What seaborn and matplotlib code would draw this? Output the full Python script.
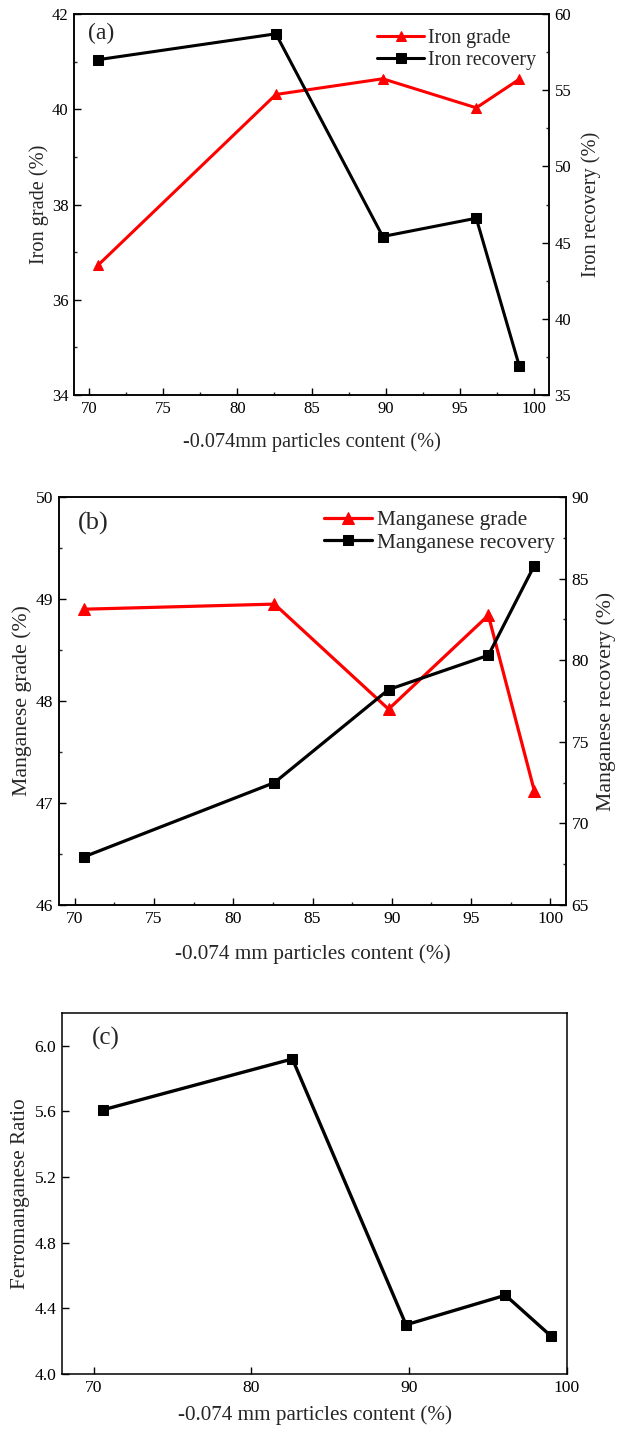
import matplotlib
matplotlib.use("Agg")
import matplotlib.pyplot as plt
from matplotlib.ticker import MultipleLocator, FormatStrFormatter
import seaborn as sns
import pandas as pd

sns.set_style("ticks")
plt.rcParams["font.family"] = ["Liberation Serif", "DejaVu Serif"]
plt.rcParams["mathtext.fontset"] = "stix"

# -0.074 mm particle content (%)
fineness = [70.6, 82.6, 89.8, 96.1, 99.0]

# (a) iron
iron_grade = [36.72, 40.31, 40.64, 40.03, 40.63]
iron_recovery = [57.0, 58.7, 45.4, 46.6, 36.9]

# (b) manganese
mn_grade = [48.90, 48.95, 47.92, 48.84, 47.12]
mn_recovery = [67.96, 72.5, 78.2, 80.3, 85.8]

# (c) Fe/Mn ratio
fe_mn_ratio = [5.61, 5.92, 4.30, 4.48, 4.23]

W, H = 618, 1432
fig = plt.figure(figsize=(W / 100, H / 100), dpi=100)


def px_axes(left, right, top, bottom):
    return fig.add_axes([left / W, 1 - bottom / H, (right - left) / W, (bottom - top) / H])


def style_axis(ax, fs, right=False):
    for s in ax.spines.values():
        s.set_linewidth(1.1)
        s.set_color("black")
    ax.tick_params(axis="both", which="major", direction="in", length=5, width=1.0,
                   labelsize=fs, colors="black", pad=4)
    ax.tick_params(axis="both", which="minor", direction="in", length=2.5, width=1.0)
    ax.tick_params(top=False, which="both")
    if not right:
        ax.tick_params(axis="y", right=False, which="both")


def draw(ax, x, y, color, marker, ms, lw, label):
    df = pd.DataFrame({"x": x, "y": y})
    sns.lineplot(data=df, x="x", y="y", ax=ax, color=color, marker=marker,
                 markersize=ms, linewidth=lw, markeredgecolor=color,
                 markerfacecolor=color, label=label, legend=False, sort=False)


# ---------- (a) ----------
axa = px_axes(74, 549, 14, 395)
axa2 = axa.twinx()
draw(axa, fineness, iron_grade, "#ff0000", "^", 7.5, 2.2, "Iron grade")
draw(axa2, fineness, iron_recovery, "black", "s", 6.5, 2.2, "Iron recovery")
axa.set_xlim(69, 101)
axa.set_ylim(34, 42)
axa2.set_ylim(35, 60)
axa.xaxis.set_major_locator(MultipleLocator(5))
axa.xaxis.set_minor_locator(MultipleLocator(2.5))
axa.yaxis.set_major_locator(MultipleLocator(2))
axa.yaxis.set_minor_locator(MultipleLocator(1))
axa2.yaxis.set_major_locator(MultipleLocator(5))
axa2.yaxis.set_minor_locator(MultipleLocator(2.5))
style_axis(axa, 12)
style_axis(axa2, 12, right=True)
axa.set_xlabel("-0.074mm particles content (%)", fontsize=14.6, labelpad=11)
axa.set_ylabel("Iron grade (%)", fontsize=14.6, labelpad=2)
axa2.set_ylabel("Iron recovery (%)", fontsize=14.6, labelpad=7)
axa.text(0.029, 0.95, "(a)", transform=axa.transAxes, fontsize=17, va="center", ha="left")
handles = axa.get_lines() + axa2.get_lines()
axa.legend(handles=handles, labels=[h.get_label() for h in handles], loc="upper left",
           bbox_to_anchor=(0.638, 0.96), frameon=False, fontsize=14.4, borderpad=0,
           handlelength=2.35, handletextpad=0.2, labelspacing=0.14, borderaxespad=0)

# ---------- (b) ----------
axb = px_axes(59, 566, 497, 905)
axb2 = axb.twinx()
draw(axb, fineness, mn_grade, "#ff0000", "^", 8, 2.3, "Manganese grade")
draw(axb2, fineness, mn_recovery, "black", "s", 7, 2.3, "Manganese recovery")
axb.set_xlim(69, 101)
axb.set_ylim(46, 50)
axb2.set_ylim(65, 90)
axb.xaxis.set_major_locator(MultipleLocator(5))
axb.xaxis.set_minor_locator(MultipleLocator(2.5))
axb.yaxis.set_major_locator(MultipleLocator(1))
axb.yaxis.set_minor_locator(MultipleLocator(0.5))
axb2.yaxis.set_major_locator(MultipleLocator(5))
axb2.yaxis.set_minor_locator(MultipleLocator(2.5))
style_axis(axb, 12.6)
style_axis(axb2, 12.6, right=True)
axb.set_xlabel("-0.074 mm particles content (%)", fontsize=15.3, labelpad=13)
axb.set_ylabel("Manganese grade (%)", fontsize=15.7, labelpad=3)
axb2.set_ylabel("Manganese recovery (%)", fontsize=15.7, labelpad=5)
axb.text(0.037, 0.936, "(b)", transform=axb.transAxes, fontsize=19, va="center", ha="left")
handles = axb.get_lines() + axb2.get_lines()
axb.legend(handles=handles, labels=[h.get_label() for h in handles], loc="upper left",
           bbox_to_anchor=(0.523, 0.968), frameon=False, fontsize=15.4, borderpad=0,
           handlelength=2.25, handletextpad=0.23, labelspacing=0.12, borderaxespad=0)

# ---------- (c) ----------
axc = px_axes(62, 567, 1013, 1374)
draw(axc, fineness, fe_mn_ratio, "black", "s", 7, 2.4, "Ferromanganese Ratio")
axc.set_xlim(68, 100)
axc.set_ylim(4.0, 6.2)
axc.xaxis.set_major_locator(MultipleLocator(10))
axc.yaxis.set_major_locator(MultipleLocator(0.4))
axc.yaxis.set_major_formatter(FormatStrFormatter("%.1f"))
style_axis(axc, 12.6)
axc.set_xlabel("-0.074 mm particles content (%)", fontsize=15.2, labelpad=7)
axc.set_ylabel("Ferromanganese Ratio", fontsize=15.2, labelpad=3)
axc.text(0.059, 0.93, "(c)", transform=axc.transAxes, fontsize=18, va="center", ha="left")

fig.savefig("out.png", dpi=100, facecolor="white")
